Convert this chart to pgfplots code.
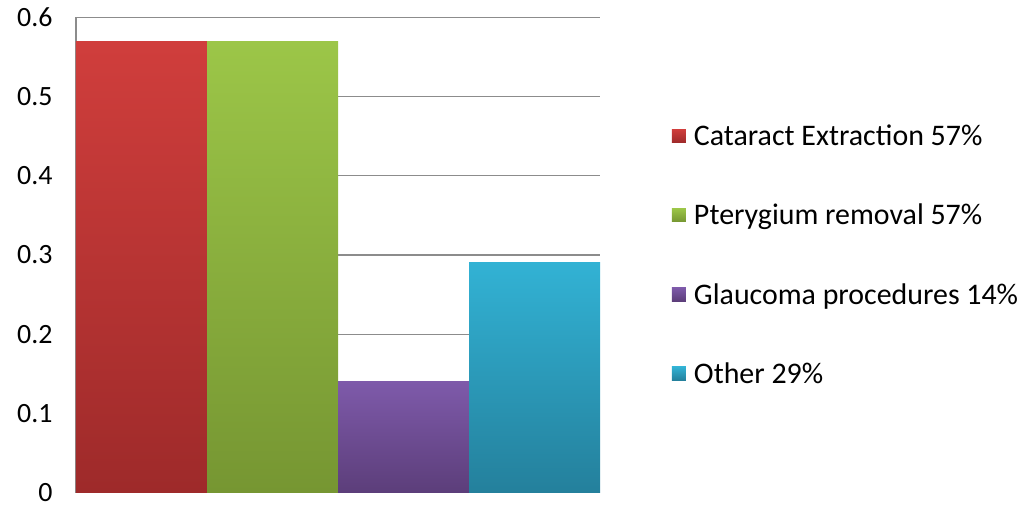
\documentclass[border=0pt]{standalone}
\usepackage{fontspec}
\setmainfont{Carlito}
\usepackage{pgfplots}
\pgfplotsset{compat=1.18}

\definecolor{redT}{RGB}{208,62,60}
\definecolor{redB}{RGB}{158,42,42}
\definecolor{grnT}{RGB}{156,198,72}
\definecolor{grnB}{RGB}{118,150,50}
\definecolor{purT}{RGB}{126,90,170}
\definecolor{purB}{RGB}{92,62,122}
\definecolor{cyaT}{RGB}{50,178,212}
\definecolor{cyaB}{RGB}{36,128,156}
\definecolor{gridc}{RGB}{140,140,140}

\begin{document}
\begin{tikzpicture}
\begin{axis}[
    name=ax,
    scale only axis,
    width=524bp, height=475bp,
    xmin=-0.5, xmax=3.5,
    ymin=0, ymax=0.6,
    ytick={0,0.1,0.2,0.3,0.4,0.5,0.6},
    xtick=\empty,
    ymajorgrids=true,
    grid style={gridc, line width=1.2pt},
    axis x line*=bottom,
    axis y line*=left,
    axis line style={gridc, line width=1.2pt, -},
    ytick style={draw=none},
    yticklabel style={/pgf/number format/fixed, /pgf/number format/precision=1,
        font=\fontsize{28}{33}\selectfont, inner ysep=0pt, xshift=-20bp},
    /pgf/number format/assume math mode=true,
    bar width=1, 
    legend style={at={(1.137,0.5)}, anchor=west, draw=none, fill=none,
        font=\fontsize{30}{36}\selectfont, row sep=53bp,
        cells={anchor=west}, inner sep=0pt},
    legend image code/.code={\fill[#1] (0bp,-6.5bp) rectangle (14bp,7bp);
        \path (20bp,0bp);},
]
\addplot[ybar, bar shift=0pt, draw=none, top color=redT, bottom color=redB]
    coordinates {(0,0.57)};
\addlegendentry{Cataract Extraction 57\%}
\addplot[ybar, bar shift=0pt, draw=none, top color=grnT, bottom color=grnB]
    coordinates {(1,0.57)};
\addlegendentry{Pterygium removal 57\%}
\addplot[ybar, bar shift=0pt, draw=none, top color=purT, bottom color=purB]
    coordinates {(2,0.14)};
\addlegendentry{Glaucoma procedures 14\%}
\addplot[ybar, bar shift=0pt, draw=none, top color=cyaT, bottom color=cyaB]
    coordinates {(3,0.29)};
\addlegendentry{Other 29\%}
\end{axis}
\pgfresetboundingbox
\path (ax.south west) ++(-76bp,-13.5bp) rectangle ++(1023bp,506bp);
\end{tikzpicture}
\end{document}
